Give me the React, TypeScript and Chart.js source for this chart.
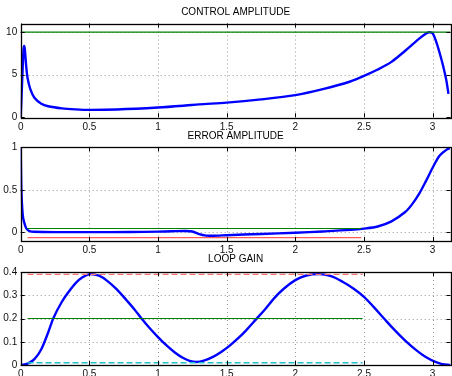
import { useEffect, useRef } from "react";
import { Chart, registerables } from "chart.js";

Chart.register(...registerables);

// ---------- data ----------
const xTicks = [0, 0.5, 1, 1.5, 2, 2.5, 3];
const xMax = 3.13;

// Control amplitude
const ctrlX = [0, 0.01, 0.02, 0.025, 0.03, 0.04, 0.05, 0.07, 0.1, 0.15, 0.2, 0.3, 0.4, 0.5, 0.7, 1.0, 1.2, 1.3, 1.5, 1.75, 2.0, 2.2, 2.4, 2.5, 2.6, 2.7, 2.8, 2.9, 2.95, 2.975, 3.0, 3.025, 3.05, 3.075, 3.1, 3.115];
const ctrlY = [0, 4.0, 7.8, 8.35, 8.0, 6.0, 4.6, 3.3, 2.3, 1.6, 1.3, 1.05, 0.93, 0.87, 0.92, 1.15, 1.38, 1.52, 1.72, 2.1, 2.6, 3.3, 4.2, 4.85, 5.6, 6.5, 7.8, 9.2, 9.8, 9.97, 9.85, 8.9, 7.6, 6.1, 4.3, 2.75];
const ctrlLimit = 10;
const ctrlYTicks = [0, 5, 10];

// Error amplitude
const errX = [0, 0.005, 0.015, 0.025, 0.04, 0.06, 0.1, 0.3, 0.5, 0.8, 1.0, 1.1, 1.2, 1.25, 1.3, 1.35, 1.4, 1.5, 1.75, 2.0, 2.2, 2.4, 2.5, 2.6, 2.7, 2.8, 2.85, 2.9, 2.95, 3.0, 3.05, 3.1, 3.125];
const errY = [1, 0.5, 0.2, 0.12, 0.05, 0.02, 0.008, 0.004, 0.004, 0.006, 0.01, 0.014, 0.018, 0.012, -0.02, -0.037, -0.038, -0.032, -0.017, -0.003, 0.012, 0.03, 0.045, 0.07, 0.13, 0.24, 0.33, 0.45, 0.6, 0.76, 0.9, 0.97, 0.99];
const errUpper = 0.047;
const errLower = -0.06;
const errBandX = [0.05, 2.48];
const errYTicks = [0, 0.5, 1];

// Loop gain
const gainX = [0, 0.05, 0.1, 0.15, 0.2, 0.237, 0.3, 0.35, 0.4, 0.45, 0.51, 0.57, 0.63, 0.7, 0.77, 0.83, 0.88, 0.94, 1.0, 1.06, 1.12, 1.18, 1.23, 1.28, 1.34, 1.4, 1.46, 1.52, 1.58, 1.64, 1.712, 1.78, 1.85, 1.92, 2.0, 2.08, 2.173, 2.26, 2.344, 2.42, 2.5, 2.57, 2.646, 2.72, 2.8, 2.88, 2.95, 3.02, 3.07, 3.13];
const gainY = [0, 0.006, 0.025, 0.068, 0.14, 0.2, 0.272, 0.315, 0.352, 0.377, 0.391, 0.384, 0.362, 0.325, 0.279, 0.238, 0.2, 0.158, 0.12, 0.085, 0.055, 0.031, 0.018, 0.013, 0.02, 0.035, 0.056, 0.082, 0.113, 0.148, 0.195, 0.24, 0.29, 0.33, 0.365, 0.385, 0.391, 0.382, 0.358, 0.33, 0.293, 0.25, 0.2, 0.152, 0.105, 0.064, 0.034, 0.013, 0.004, 0];
const gainMax = 0.39;
const gainTarget = 0.2;
const gainMin = 0.01;
const gainBandX = [0.05, 2.49];
const gainYTicks = [0, 0.1, 0.2, 0.3, 0.4];

// ---------- helpers ----------
const FONT = "'Liberation Sans', Arial, Helvetica, sans-serif";

const pts = (xs: number[], ys: number[]) => xs.map((x, i) => ({ x, y: ys[i] }));
const hline = (x0: number, x1: number, y: number) => [{ x: x0, y }, { x: x1, y }];

const framePlugin = {
  id: "matlabFrame",
  beforeDatasetsDraw(chart: any) {
    const { ctx, chartArea: a, scales } = chart;
    const sx = scales.x, sy = scales.y;
    ctx.save();
    ctx.strokeStyle = "#999999";
    ctx.lineWidth = 1;
    ctx.setLineDash([1, 3]);
    ctx.beginPath();
    sx.ticks.forEach((t: any) => {
      const px = Math.round(sx.getPixelForValue(t.value)) + 0.5;
      if (px > a.left + 2 && px < a.right - 2) {
        ctx.moveTo(px, a.top);
        ctx.lineTo(px, a.bottom);
      }
    });
    sy.ticks.forEach((t: any) => {
      const py = Math.round(sy.getPixelForValue(t.value)) + 0.5;
      if (py > a.top + 2 && py < a.bottom - 2) {
        ctx.moveTo(a.left, py);
        ctx.lineTo(a.right, py);
      }
    });
    ctx.stroke();
    ctx.restore();
  },
  afterDatasetsDraw(chart: any) {
    const { ctx, chartArea: a, scales } = chart;
    const sx = scales.x, sy = scales.y;
    const L = 4;
    ctx.save();
    ctx.strokeStyle = "#000";
    ctx.lineWidth = 1;
    ctx.setLineDash([]);
    ctx.beginPath();
    sx.ticks.forEach((t: any) => {
      const px = Math.round(sx.getPixelForValue(t.value)) + 0.5;
      ctx.moveTo(px, a.bottom);
      ctx.lineTo(px, a.bottom - L);
      ctx.moveTo(px, a.top);
      ctx.lineTo(px, a.top + L);
    });
    sy.ticks.forEach((t: any) => {
      const py = Math.round(sy.getPixelForValue(t.value)) + 0.5;
      ctx.moveTo(a.left, py);
      ctx.lineTo(a.left + L, py);
      ctx.moveTo(a.right, py);
      ctx.lineTo(a.right - L, py);
    });
    ctx.stroke();
    ctx.lineWidth = 1.3;
    ctx.strokeRect(Math.round(a.left) + 0.5, Math.round(a.top) + 0.5, Math.round(a.right - a.left), Math.round(a.bottom - a.top));
    ctx.restore();
  },
};

type PanelCfg = {
  title: string;
  datasets: any[];
  yMin: number;
  yMax: number;
  yTicks: number[];
  padTop: number;
  titleGap: number;
  padBottom: number;
  xHeight: number;
};

function makeConfig(p: PanelCfg): any {
  return {
    type: "line",
    data: { datasets: p.datasets },
    plugins: [framePlugin],
    options: {
      responsive: false,
      animation: false,
      events: [],
      layout: {
        autoPadding: false,
        padding: { top: p.padTop, left: 0, right: 1.5, bottom: p.padBottom },
      },
      elements: { point: { radius: 0 } },
      plugins: {
        legend: { display: false },
        tooltip: { enabled: false },
        title: {
          display: true,
          text: p.title,
          fullSize: false,
          color: "#000",
          font: { family: FONT, size: 10, lineHeight: 1, weight: "normal" },
          padding: { top: 0, bottom: p.titleGap },
        },
      },
      scales: {
        x: {
          type: "linear",
          min: 0,
          max: xMax,
          afterBuildTicks: (s: any) => {
            s.ticks = xTicks.map((value) => ({ value }));
          },
          afterFit: (s: any) => {
            s.height = p.xHeight;
          },
          grid: { display: false, drawTicks: false },
          border: { display: false },
          ticks: {
            color: "#111",
            padding: 3.5,
            maxRotation: 0,
            autoSkip: false,
            font: { family: FONT, size: 10 },
            callback: (v: any) => String(v),
          },
        },
        y: {
          type: "linear",
          min: p.yMin,
          max: p.yMax,
          afterBuildTicks: (s: any) => {
            s.ticks = p.yTicks.map((value) => ({ value }));
          },
          afterFit: (s: any) => {
            s.width = 20.7;
          },
          grid: { display: false, drawTicks: false },
          border: { display: false },
          ticks: {
            color: "#111",
            padding: 3.5,
            autoSkip: false,
            font: { family: FONT, size: 10 },
            callback: (v: any) => String(v),
          },
        },
      },
    },
  };
}

const BLUE = "#0000ff";
const GREEN = "#008000";

const panels: PanelCfg[] = [
  {
    title: "CONTROL AMPLITUDE",
    datasets: [
      { data: hline(0, xMax, ctrlLimit), borderColor: GREEN, borderWidth: 1.2, tension: 0 },
      { data: pts(ctrlX, ctrlY), borderColor: BLUE, borderWidth: 2.4, tension: 0.3 },
    ],
    yMin: 0,
    yMax: 11,
    yTicks: ctrlYTicks,
    padTop: 7,
    titleGap: 6.5,
    padBottom: 376 - 117.3 - 14,
    xHeight: 14,
  },
  {
    title: "ERROR AMPLITUDE",
    datasets: [
      { data: hline(errBandX[0], errBandX[1], errUpper), borderColor: GREEN, borderWidth: 1.2, tension: 0 },
      { data: hline(errBandX[0], errBandX[1], errLower), borderColor: "#ff5a5a", borderWidth: 1.2, tension: 0 },
      { data: pts(errX, errY), borderColor: BLUE, borderWidth: 2.4, tension: 0.3 },
    ],
    yMin: -0.1,
    yMax: 1,
    yTicks: errYTicks,
    padTop: 131.7,
    titleGap: 5.6,
    padBottom: 376 - 241 - 14,
    xHeight: 14,
  },
  {
    title: "LOOP GAIN",
    datasets: [
      { data: hline(gainBandX[0], gainBandX[1], gainMax), borderColor: "#ff7070", borderWidth: 1.4, borderDash: [6, 3], tension: 0 },
      { data: hline(gainBandX[0], gainBandX[1], gainTarget), borderColor: GREEN, borderWidth: 1.2, tension: 0 },
      { data: hline(gainBandX[0], gainBandX[1], gainMin), borderColor: "#20c0c8", borderWidth: 1.4, borderDash: [6, 3], tension: 0 },
      { data: pts(gainX, gainY), borderColor: BLUE, borderWidth: 2.4, cubicInterpolationMode: "monotone" },
    ],
    yMin: 0,
    yMax: 0.4,
    yTicks: gainYTicks,
    padTop: 254.5,
    titleGap: 7.5,
    padBottom: 0,
    xHeight: 11,
  },
];

function Panel({ cfg }: { cfg: PanelCfg }) {
  const ref = useRef<HTMLCanvasElement>(null);
  useEffect(() => {
    if (!ref.current) return;
    const chart = new Chart(ref.current, makeConfig(cfg));
    return () => chart.destroy();
  }, [cfg]);
  return (
    <canvas
      ref={ref}
      width={452}
      height={376}
      style={{ position: "absolute", left: 0, top: 0, width: 452, height: 376 }}
    />
  );
}

export default function App() {
  return (
    <div style={{ position: "fixed", left: 0, top: 0, width: 452, height: 376, background: "#fff", overflow: "hidden" }}>
      {panels.map((p) => (
        <Panel key={p.title} cfg={p} />
      ))}
    </div>
  );
}
